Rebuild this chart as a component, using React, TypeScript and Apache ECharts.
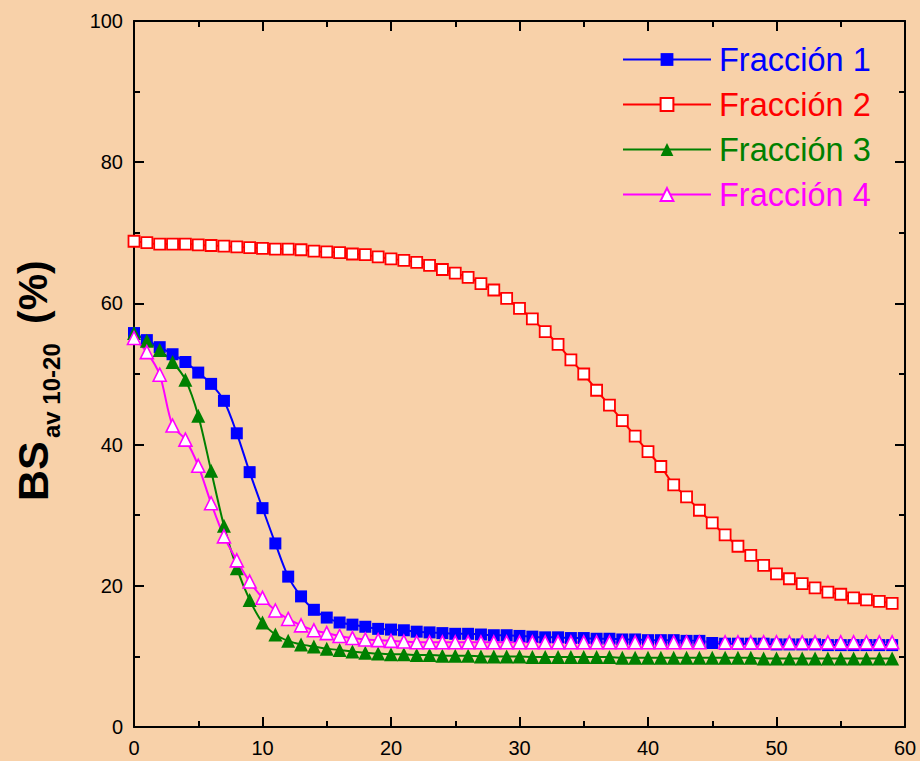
import React, { useEffect, useRef } from "react";
import * as echarts from "echarts";

const times = [0,1,2,3,4,5,6,7,8,9,10,11,12,13,14,15,16,17,18,19,20,21,22,23,24,25,26,27,28,29,30,31,32,33,34,35,36,37,38,39,40,41,42,43,44,45,46,47,48,49,50,51,52,53,54,55,56,57,58,59];

const fraccion1 = [55.8,54.8,53.8,52.8,51.7,50.2,48.6,46.2,41.6,36.1,31.0,26.0,21.3,18.5,16.6,15.5,14.8,14.5,14.2,13.9,13.8,13.7,13.5,13.4,13.3,13.2,13.2,13.1,13.0,13.0,12.9,12.8,12.7,12.7,12.6,12.6,12.5,12.5,12.4,12.4,12.3,12.3,12.3,12.2,12.2,11.9,11.8,11.8,11.8,11.8,11.7,11.7,11.7,11.7,11.6,11.6,11.6,11.6,11.6,11.6];

const fraccion2 = [68.8,68.6,68.4,68.4,68.4,68.3,68.2,68.1,68.0,67.9,67.8,67.7,67.7,67.6,67.4,67.3,67.2,67.0,66.9,66.6,66.3,66.1,65.8,65.4,64.8,64.3,63.7,62.8,61.9,60.7,59.3,57.8,56.0,54.2,52.0,50.0,47.7,45.6,43.4,41.2,39.0,36.9,34.3,32.6,30.7,28.9,27.2,25.6,24.3,22.9,21.7,21.0,20.3,19.7,19.1,18.8,18.3,18.0,17.8,17.5];

const fraccion3 = [55.8,54.7,53.4,51.7,49.2,44.1,36.3,28.5,22.5,18.0,14.8,13.1,12.2,11.7,11.4,11.1,10.9,10.7,10.5,10.4,10.3,10.3,10.2,10.2,10.1,10.1,10.1,10.0,10.0,10.0,10.0,9.9,9.9,9.9,9.9,9.9,9.9,9.9,9.8,9.8,9.8,9.8,9.8,9.8,9.8,9.8,9.8,9.8,9.8,9.7,9.7,9.7,9.7,9.7,9.7,9.7,9.7,9.7,9.7,9.7];

const fraccion4 = [55.1,53.1,49.9,42.7,40.7,37.0,31.7,27.0,23.6,20.6,18.3,16.5,15.3,14.4,13.7,13.3,12.9,12.6,12.4,12.3,12.2,12.1,12.0,12.0,12.0,12.0,12.0,12.0,12.0,12.0,12.0,12.0,12.0,12.0,12.0,12.0,12.0,12.0,12.0,12.0,12.0,12.0,12.0,12.0,12.0,null,12.0,12.0,12.0,12.0,12.0,12.0,12.0,12.0,12.0,12.0,12.0,12.0,12.0,12.0];

const seriesNames = ["Fracción 1", "Fracción 2", "Fracción 3", "Fracción 4"];
const xTicks = { min: 0, max: 60, interval: 10 };
const yTicks = { min: 0, max: 100, interval: 20 };

const FONT = "Liberation Sans, Arial, sans-serif";

export default function App() {
  const ref = useRef<HTMLDivElement>(null);
  useEffect(() => {
    if (!ref.current) return;
    const chart = echarts.init(ref.current, null, { renderer: "svg" });
    const pair = (arr: (number | null)[]) => times.map((t, i) => [t, arr[i]]);
    const axisCommon = {
      axisLine: { show: true, onZero: false, lineStyle: { color: "#000", width: 2 } },
      axisTick: { show: true, inside: true, length: 10, lineStyle: { color: "#000", width: 2 } },
      minorTick: { show: true, splitNumber: 2, length: 6, lineStyle: { color: "#000", width: 2 } },
      splitLine: { show: false },
      minorSplitLine: { show: false },
    };
    const colors = ["#0000FF", "#FF0000", "#008000", "#FF00FF"];
    const option = {
      animation: false,
      backgroundColor: "#F8D1A9",
      grid: { left: 134, right: 15, top: 21, bottom: 34 },
      legend: {
        orient: "vertical",
        left: 622,
        top: 43,
        padding: 0,
        itemWidth: 88,
        itemHeight: 16,
        itemGap: 12,
        textStyle: { fontSize: 32.5, lineHeight: 32, fontFamily: FONT, padding: [0, 0, 0, 3] },
        data: seriesNames.map((n, i) => ({ name: n, textStyle: { color: colors[i] } })),
      },
      xAxis: [
        {
          type: "value",
          position: "bottom",
          ...xTicks,
          ...axisCommon,
          axisLabel: { show: true, fontSize: 20, color: "#000", fontFamily: FONT, margin: 11 },
        },
        {
          type: "value",
          position: "top",
          ...xTicks,
          ...axisCommon,
          axisLabel: { show: false },
        },
      ],
      yAxis: [
        {
          type: "value",
          position: "left",
          ...yTicks,
          ...axisCommon,
          axisLabel: { show: true, fontSize: 20, color: "#000", fontFamily: FONT, margin: 11 },
        },
        {
          type: "value",
          position: "right",
          ...yTicks,
          ...axisCommon,
          axisLabel: { show: false },
        },
      ],
      graphic: [
        {
          type: "text",
          x: 33,
          y: 501,
          rotation: Math.PI / 2,
          style: {
            text: "BS",
            font: `bold 43px ${FONT}`,
            fill: "#000",
            align: "left",
            verticalAlign: "middle",
            textAlign: "left",
            textVerticalAlign: "middle",
          },
        },
        {
          type: "text",
          x: 51.5,
          y: 438,
          rotation: Math.PI / 2,
          style: {
            text: "av 10-20",
            font: `bold 24px ${FONT}`,
            fill: "#000",
            align: "left",
            verticalAlign: "middle",
            textAlign: "left",
            textVerticalAlign: "middle",
          },
        },
        {
          type: "text",
          x: 33,
          y: 324,
          rotation: Math.PI / 2,
          style: {
            text: "(%)",
            font: `bold 41px ${FONT}`,
            fill: "#000",
            align: "left",
            verticalAlign: "middle",
            textAlign: "left",
            textVerticalAlign: "middle",
          },
        },
      ],
      series: [
        {
          name: seriesNames[0],
          type: "line",
          data: pair(fraccion1),
          smooth: 0.3,
          symbol: "rect",
          symbolSize: 12,
          lineStyle: { color: colors[0], width: 2 },
          itemStyle: { color: colors[0] },
        },
        {
          name: seriesNames[1],
          type: "line",
          data: pair(fraccion2),
          smooth: 0.3,
          symbol: "rect",
          symbolSize: 11,
          lineStyle: { color: colors[1], width: 2 },
          itemStyle: { color: "#FFFFFF", borderColor: colors[1], borderWidth: 1.8 },
        },
        {
          name: seriesNames[2],
          type: "line",
          data: pair(fraccion3),
          smooth: 0.3,
          symbol: "triangle",
          symbolSize: 14,
          lineStyle: { color: colors[2], width: 2 },
          itemStyle: { color: colors[2] },
        },
        {
          name: seriesNames[3],
          type: "line",
          data: pair(fraccion4),
          smooth: 0.3,
          connectNulls: true,
          symbol: "triangle",
          symbolSize: 13,
          lineStyle: { color: colors[3], width: 2 },
          itemStyle: { color: "#FFFFFF", borderColor: colors[3], borderWidth: 1.6 },
        },
      ],
    };
    chart.setOption(option as any);
    return () => chart.dispose();
  }, []);
  return (
    <div
      ref={ref}
      style={{ position: "fixed", left: 0, top: 0, width: 920, height: 761 }}
    />
  );
}
